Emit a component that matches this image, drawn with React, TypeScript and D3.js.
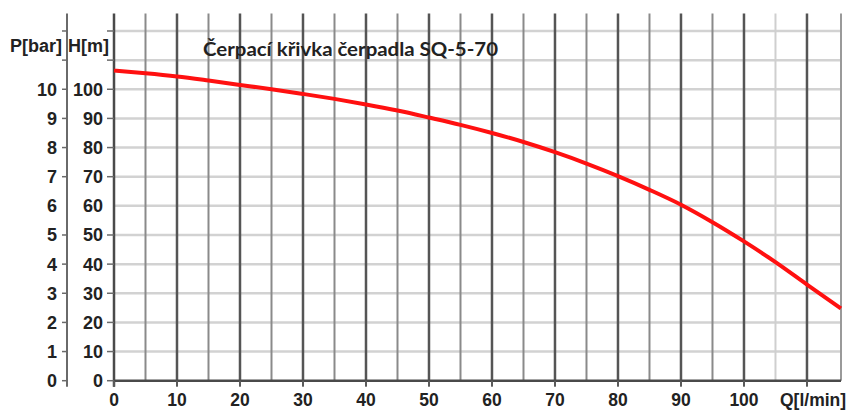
import React from 'react';
import * as d3 from 'd3';

// Pump curve: Q [l/min] vs H [m]
const flowQ = [0, 5, 10, 15, 20, 25, 30, 35, 40, 45, 50, 55, 60, 65, 70, 75, 80, 85, 90, 95, 100, 105, 110, 115.4];
const headH = [106.4, 105.5, 104.4, 103.0, 101.5, 100.0, 98.4, 96.7, 94.8, 92.7, 90.3, 87.8, 85.0, 81.9, 78.4, 74.5, 70.2, 65.5, 60.4, 54.4, 47.8, 40.7, 33.0, 24.8];

const xTicks = [0, 10, 20, 30, 40, 50, 60, 70, 80, 90, 100];
const hTicks = [0, 10, 20, 30, 40, 50, 60, 70, 80, 90, 100];
const pTicks = [0, 1, 2, 3, 4, 5, 6, 7, 8, 9, 10];
const hGrid = [10, 20, 30, 40, 50, 60, 70, 80, 90, 100, 110, 120];
const vGrid = [5, 10, 15, 20, 25, 30, 35, 40, 45, 50, 55, 60, 65, 70, 75, 80, 85, 90, 95, 100, 105, 110, 115.4];
const missingTick = 60;

const title = 'Čerpací křivka čerpadla SQ-5-70';

const W = 850;
const H = 412;
const font = '"Liberation Sans", Arial, sans-serif';

export default function App() {
  const x = d3.scaleLinear().domain([0, 115.4]).range([114, 841]);
  const y = d3.scaleLinear().domain([0, 126]).range([380.7, 13.5]);
  const pAxisX = 67;

  const line = d3.line<number>()
    .x((_, i) => x(flowQ[i]))
    .y((d) => y(d))
    .curve(d3.curveMonotoneX);

  const vColor = (v: number) => {
    if (v === 105) return '#cfcfcf';
    if (v > 115) return '#9a9a9a';
    return v % 10 === 0 ? '#555' : '#8a8a8a';
  };

  return (
    <svg width={W} height={H} style={{ position: 'fixed', left: 0, top: 0, background: '#fff' }}>
      {/* horizontal grid */}
      {hGrid.map((v) => (
        <line key={'h' + v} x1={x(0)} x2={x(115.4)} y1={y(v)} y2={y(v)} stroke="#d2d2d2" strokeWidth={2.5} />
      ))}
      {/* vertical grid */}
      {vGrid.map((v) => (
        <line key={'v' + v} x1={x(v)} x2={x(v)} y1={y(126)} y2={y(0)} stroke={vColor(v)}
          strokeWidth={v % 10 === 0 ? 2.5 : 2} />
      ))}

      {/* P axis */}
      <line x1={pAxisX} x2={pAxisX} y1={y(126)} y2={y(0) + 6} stroke="#6a6a6a" strokeWidth={2} />
      {hGrid.concat([0]).filter((v) => v !== missingTick).map((v) => (
        <line key={'pt' + v} x1={pAxisX - 5} x2={pAxisX} y1={y(v)} y2={y(v)} stroke="#6a6a6a" strokeWidth={1.5} />
      ))}
      {pTicks.map((v) => (
        <text key={'pl' + v} x={57} y={y(v * 10)} dy="0.36em" textAnchor="end"
          fontFamily={font} fontWeight="bold" fontSize={18} fill="#222">{v}</text>
      ))}

      {/* H axis */}
      <line x1={x(0)} x2={x(0)} y1={y(126)} y2={y(0) + 6} stroke="#4a4a4a" strokeWidth={2.5} />
      {hGrid.concat([0]).filter((v) => v !== missingTick).map((v) => (
        <line key={'ht' + v} x1={x(0) - 7} x2={x(0)} y1={y(v)} y2={y(v)} stroke="#6a6a6a" strokeWidth={1.5} />
      ))}
      {hTicks.map((v) => (
        <text key={'hl' + v} x={103} y={y(v)} dy="0.36em" textAnchor="end"
          fontFamily={font} fontWeight="bold" fontSize={18} fill="#222">{v}</text>
      ))}

      {/* X axis */}
      <line x1={x(0)} x2={x(115.4)} y1={y(0)} y2={y(0)} stroke="#4a4a4a" strokeWidth={2.5} />
      {xTicks.concat([110]).map((v) => (
        <line key={'xt' + v} x1={x(v)} x2={x(v)} y1={y(0)} y2={y(0) + 6} stroke="#5a5a5a" strokeWidth={2} />
      ))}
      {xTicks.map((v) => (
        <text key={'xl' + v} x={x(v)} y={406} textAnchor="middle"
          fontFamily={font} fontWeight="bold" fontSize={17.5} fill="#222">{v}</text>
      ))}

      {/* axis titles */}
      <text x={10} y={52} fontFamily={font} fontWeight="bold" fontSize={18} fill="#222">P[bar]</text>
      <text x={68} y={52} fontFamily={font} fontWeight="bold" fontSize={18} fill="#222">H[m]</text>
      <text x={780} y={406} fontFamily={font} fontWeight="bold" fontSize={17.5} fill="#222">Q[l/min]</text>

      {/* chart title */}
      <text x={203} y={56} fontFamily='Lato, "Open Sans", sans-serif' fontWeight="bold" fontSize={18.5}
        fill="#222" textLength={295} lengthAdjust="spacingAndGlyphs">{title}</text>

      {/* pump curve */}
      <path d={line(headH) || ''} fill="none" stroke="#ff1010" strokeWidth={4} strokeLinecap="butt" />
    </svg>
  );
}
